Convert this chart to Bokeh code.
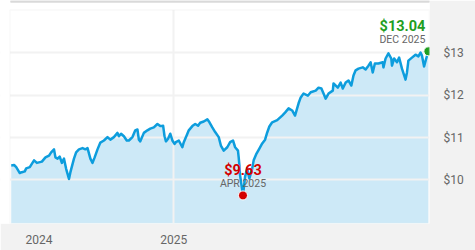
import pandas as pd
from bokeh.plotting import figure
from bokeh.models import Range1d, FixedTicker, BoxAnnotation
from bokeh.core.properties import value
from bokeh.embed import file_html
from bokeh.resources import INLINE

# ---- data ----
dates = [
    "2024-05-18", "2024-05-22", "2024-05-25", "2024-05-30", "2024-06-02", "2024-06-06",
    "2024-06-08", "2024-06-13", "2024-06-19", "2024-06-23", "2024-06-30", "2024-07-05",
    "2024-07-10", "2024-07-13", "2024-07-17", "2024-07-19", "2024-07-22", "2024-07-25",
    "2024-07-28", "2024-07-31", "2024-08-03", "2024-08-07", "2024-08-09", "2024-08-14",
    "2024-08-17", "2024-08-21", "2024-08-26", "2024-08-30", "2024-09-02", "2024-09-06",
    "2024-09-09", "2024-09-12", "2024-09-16", "2024-09-20", "2024-09-25", "2024-09-30",
    "2024-10-04", "2024-10-09", "2024-10-14", "2024-10-16", "2024-10-19", "2024-10-23",
    "2024-10-27", "2024-10-30", "2024-11-04", "2024-11-08", "2024-11-11", "2024-11-13",
    "2024-11-15", "2024-11-20", "2024-11-25", "2024-11-29", "2024-12-04", "2024-12-09",
    "2024-12-13", "2024-12-17", "2024-12-19", "2024-12-21", "2024-12-24", "2024-12-27",
    "2024-12-30", "2025-01-02", "2025-01-04", "2025-01-08", "2025-01-13", "2025-01-15",
    "2025-01-19", "2025-01-22", "2025-01-27", "2025-01-31", "2025-02-04", "2025-02-07",
    "2025-02-12", "2025-02-17", "2025-02-20", "2025-02-24", "2025-02-28", "2025-03-05",
    "2025-03-08", "2025-03-12", "2025-03-17", "2025-03-21", "2025-03-25", "2025-03-28",
    "2025-04-01", "2025-04-02", "2025-04-03", "2025-04-04", "2025-04-07", "2025-04-08",
    "2025-04-11", "2025-04-14", "2025-04-17", "2025-04-21", "2025-04-23", "2025-04-27",
    "2025-05-01", "2025-05-05", "2025-05-09", "2025-05-12", "2025-05-15", "2025-05-19",
    "2025-05-26", "2025-06-02", "2025-06-06", "2025-06-11", "2025-06-16", "2025-06-20",
    "2025-06-25", "2025-06-28", "2025-07-02", "2025-07-08", "2025-07-12", "2025-07-19",
    "2025-07-23", "2025-07-27", "2025-07-30", "2025-08-02", "2025-08-06", "2025-08-12",
    "2025-08-13", "2025-08-19", "2025-08-23", "2025-08-26", "2025-08-30", "2025-09-03",
    "2025-09-07", "2025-09-10", "2025-09-13", "2025-09-17", "2025-09-23", "2025-09-27",
    "2025-10-01", "2025-10-04", "2025-10-07", "2025-10-10", "2025-10-15", "2025-10-21",
    "2025-10-22", "2025-10-25", "2025-10-29", "2025-11-02", "2025-11-03", "2025-11-06",
    "2025-11-10", "2025-11-13", "2025-11-17", "2025-11-22", "2025-11-24", "2025-11-26",
    "2025-12-01", "2025-12-06", "2025-12-10", "2025-12-13", "2025-12-15", "2025-12-18",
    "2025-12-21", "2025-12-24",
]
prices = [
    10.34, 10.35, 10.30, 10.16, 10.18, 10.20,
    10.27, 10.30, 10.46, 10.40, 10.43, 10.53,
    10.57, 10.65, 10.72, 10.53, 10.50, 10.55,
    10.40, 10.50, 10.26, 10.02, 10.18, 10.50,
    10.65, 10.72, 10.75, 10.72, 10.75, 10.50,
    10.40, 10.53, 10.72, 10.88, 10.93, 11.01,
    10.95, 11.01, 11.11, 11.03, 11.09, 11.03,
    10.93, 10.93, 11.01, 11.17, 11.19, 10.95,
    10.91, 11.11, 11.17, 11.21, 11.24, 11.32,
    11.27, 11.28, 11.03, 10.91, 10.97, 11.09,
    10.93, 10.85, 10.89, 10.93, 10.77, 10.89,
    11.05, 11.17, 11.27, 11.32, 11.28, 11.35,
    11.38, 11.43, 11.36, 11.24, 11.13, 11.01,
    10.81, 10.69, 10.77, 10.89, 10.93, 10.77,
    10.69, 10.53, 10.34, 10.10, 9.75, 9.63,
    10.08, 10.27, 10.03, 10.27, 10.46, 10.62,
    10.74, 10.86, 10.95, 11.12, 11.26, 11.36,
    11.41, 11.52, 11.59, 11.69, 11.64, 11.52,
    11.81, 11.95, 12.04, 11.99, 12.07, 12.11,
    12.18, 12.16, 12.04, 11.92, 12.04, 12.11,
    12.28, 12.18, 12.30, 12.16, 12.30, 12.35,
    12.23, 12.47, 12.59, 12.63, 12.66, 12.61,
    12.70, 12.78, 12.54, 12.75, 12.75, 12.78,
    12.66, 12.87, 12.99, 12.87, 12.70, 12.87,
    12.78, 12.89, 12.63, 12.37, 12.54, 12.82,
    12.89, 12.96, 12.92, 13.01, 12.94, 12.68,
    12.87, 13.04,
]
y_ticks = [10, 11, 12, 13]
y_tick_labels = ["$10", "$11", "$12", "$13"]
x_tick_dates = ["2024-06-26", "2025-01-01"]
x_tick_labels = ["2024", "2025"]
grid_x_dates = ["2025-01-01"]

# ---- styling / layout ----
FONT = "Roboto"
LINE_C = "#0d9ddd"
FILL_C = "#cde9f7"
GRID_C = "#f2f2f2"
GRAY_BG = "#f2f2f2"
TXT_C = "#666666"
UP_C = "#1f9e1f"
DOWN_C = "#d40000"

def ms(d):
    return pd.Timestamp(d).timestamp() * 1000.0

dt = pd.to_datetime(dates)
x0 = ms("2025-01-01") - 243.05 * 86400000.0
x1 = ms("2025-01-01") + 358.6 * 86400000.0
y0, y1 = 8.966, 14.242

p = figure(width=475, height=250, x_axis_type="datetime", y_axis_location="right",
           x_range=Range1d(x0, x1), y_range=Range1d(y0, y1), title=None,
           toolbar_location=None, output_backend="svg",
           min_border_left=0, min_border_top=0, min_border_right=46, min_border_bottom=27,
           background_fill_color="white", border_fill_color=GRAY_BG)
p.outline_line_color = None

# area + line
area = p.varea(x=dt, y1=prices, y2=y0, fill_color=FILL_C, fill_alpha=1)
area.level = "image"
p.line(dt, prices, line_color=LINE_C, line_width=2.5, line_join="round")

# grids
p.xgrid.ticker = FixedTicker(ticks=[ms(d) for d in grid_x_dates])
p.ygrid.ticker = FixedTicker(ticks=y_ticks)
for g in (p.xgrid, p.ygrid):
    g.grid_line_color = GRID_C
    g.grid_line_width = 2

# axes
xt = [ms(d) for d in x_tick_dates]
p.xaxis.ticker = FixedTicker(ticks=xt)
p.xaxis.major_label_overrides = {t: l for t, l in zip(xt, x_tick_labels)}
p.yaxis.ticker = FixedTicker(ticks=y_ticks)
p.yaxis.major_label_overrides = {t: l for t, l in zip(y_ticks, y_tick_labels)}
for ax in (p.xaxis, p.yaxis):
    ax.axis_line_color = None
    ax.major_tick_line_color = None
    ax.minor_tick_line_color = None
    ax.major_label_text_color = TXT_C
    ax.major_label_text_font = FONT
    ax.major_label_text_font_size = "12px"
p.yaxis.major_label_standoff = 8
p.xaxis.major_label_standoff = 5

# page chrome: white margin strips, panel outline, gray bars
px_x = (x1 - x0) / 429.0
px_y = (y1 - y0) / 223.0
panel_left = x0 + 9.5 * px_x
panel_top = y1 - 9.5 * px_y
p.add_layout(BoxAnnotation(right=panel_left, fill_color="white", fill_alpha=1, line_color=None))
p.add_layout(BoxAnnotation(bottom=panel_top, fill_color="white", fill_alpha=1, line_color=None))
p.add_layout(BoxAnnotation(left=x0 + 10 * px_x, bottom=y1 - 2 * px_y, fill_color="#d9d9d9",
                           fill_alpha=1, line_color=None))
p.add_layout(BoxAnnotation(left=panel_left, top=panel_top, fill_alpha=0,
                           line_color="#ebebeb", line_width=1.5))
try:
    p.add_layout(BoxAnnotation(left=10, right=475, bottom=0, top=2,
                               left_units="canvas", right_units="canvas",
                               bottom_units="canvas", top_units="canvas",
                               fill_color="#d9d9d9", fill_alpha=1, line_color=None))
except Exception:
    pass

# callouts: low point and latest point
i_min = prices.index(min(prices))
i_last = len(prices) - 1
callouts = [
    (i_min, DOWN_C, "center", 0),
    (i_last, UP_C, "right", -3),
]
for i, col, align, xo in callouts:
    xd = [dt[i]]
    yv = [prices[i]]
    p.text(x=xd, y=yv, text=[f"${prices[i]:.2f}"], text_color=col, text_align=align,
           text_baseline="alphabetic", x_offset=xo, y_offset=-25,
           text_font=value(FONT), text_font_size="14.5px", text_font_style="bold")
    p.text(x=xd, y=yv, text=[dt[i].strftime("%b %Y").upper()], text_color=TXT_C,
           text_align=align, text_baseline="alphabetic", x_offset=xo, y_offset=-12,
           text_font=value(FONT), text_font_size="10.5px")
    p.scatter(x=xd, y=yv, size=9, fill_color=col, line_color="white", line_width=1)

open("out.html", "w").write(file_html(p, INLINE))
